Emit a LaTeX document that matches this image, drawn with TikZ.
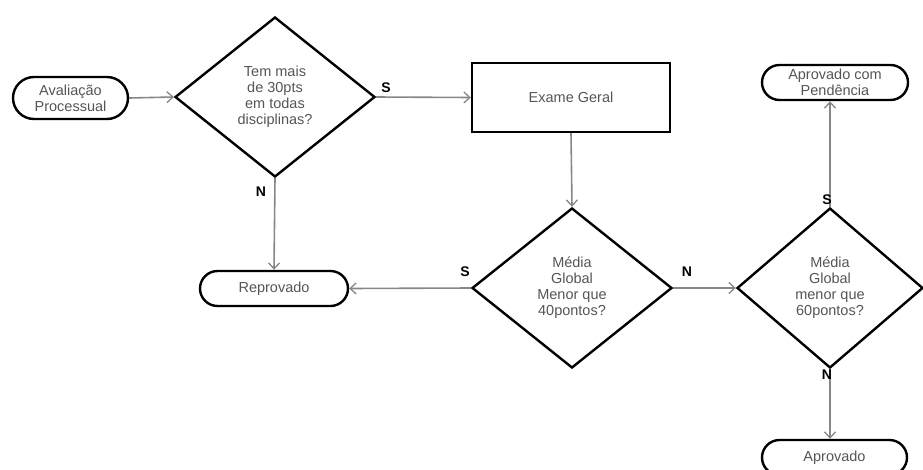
\documentclass[tikz,border=0pt]{standalone}
\usepackage{fontspec}
\setmainfont{Liberation Sans}
\usetikzlibrary{shapes.geometric,shapes.misc,arrows.meta}
\definecolor{txtgray}{RGB}{85,85,85}
\definecolor{arrgray}{RGB}{135,135,135}
\tikzset{
  x=1pt,y=-1pt,
  base/.style={draw=black,line width=2.4pt,inner sep=0pt,text=txtgray,align=center,
    font=\fontsize{14.5}{16}\selectfont},
  term/.style={base,rounded rectangle,minimum height=35pt},
  decision/.style={base,diamond,minimum width=200pt,minimum height=160pt},
  procbox/.style={base,rectangle,minimum width=198pt,minimum height=69pt},
  conn/.style={draw=arrgray,line width=1.6pt,-{Straight Barb[length=6pt,width=11pt,line width=1.3pt]}},
  lbl/.style={font=\bfseries\fontsize{14}{16}\selectfont,text=black,inner sep=0pt}
}
\begin{document}
\begin{tikzpicture}
\useasboundingbox (0,0) rectangle (923,469);
\node[term,minimum width=115pt,minimum height=42pt] (av) at (70.5,98) {Avaliação\\Processual};
\node[decision] (d1) at (275,97) {Tem mais\\de 30pts\\em todas\\disciplinas?};
\node[procbox] (ex) at (571,97.5) {Exame Geral};
\node[decision] (d2) at (572,288) {Média\\Global\\Menor que\\40pontos?};
\node[term,minimum width=148pt] (rep) at (274,288.5) {Reprovado};
\node[decision,minimum width=186pt] (d3) at (830,288) {Média\\Global\\menor que\\60pontos?};
\node[term,minimum width=146pt] (apc) at (835,82.5) {Aprovado com\\Pendência};
\node[term,minimum width=145pt] (apr) at (834.5,457.5) {Aprovado};

\draw[conn] (av.east) -- (d1.west);
\draw[conn] (d1.east) -- (ex.west);
\draw[conn] (d1.south) -- (rep.north);
\draw[conn] (ex.south) -- (d2.north);
\draw[conn] (d2.west) -- (rep.east);
\draw[conn] (d2.east) -- (d3.west);
\draw[conn] (d3.north) -- (d3.north |- apc.south);
\draw[conn] (d3.south) -- (d3.south |- apr.north);

\node[lbl] (s1) at (386,88) {S};
\node[lbl] (n1) at (261,192) {N};
\node[lbl] (s2) at (465,272) {S};
\node[lbl] (n2) at (687,272) {N};
\node[lbl] (s3) at (827,200) {S};
\node[lbl] (n3) at (827,375) {N};
\end{tikzpicture}
\end{document}
